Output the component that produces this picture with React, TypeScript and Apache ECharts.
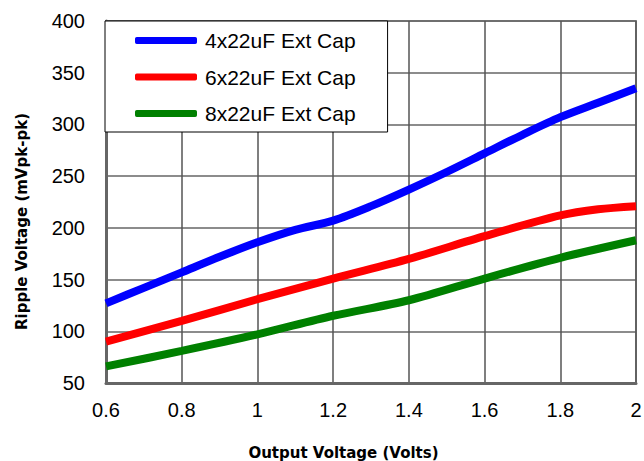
import React, { useEffect, useRef } from "react";
import * as echarts from "echarts";

const seriesNames = ["4x22uF Ext Cap", "6x22uF Ext Cap", "8x22uF Ext Cap"];
const seriesColors = ["#0000ff", "#ff0000", "#008000"];

const blueX = [0.6, 0.7, 0.8, 0.9, 1.0, 1.1, 1.2, 1.3, 1.4, 1.5, 1.6, 1.7, 1.8, 1.9, 2.0];
const blueY = [127, 142, 157, 172, 186, 198, 207, 221, 237, 254, 272, 290, 307, 321, 335];

const redX = [0.6, 0.8, 1.0, 1.2, 1.4, 1.6, 1.8, 1.9, 2.0];
const redY = [90, 110, 131, 151, 170, 192, 212, 218, 221];

const greenX = [0.6, 0.8, 1.0, 1.2, 1.4, 1.6, 1.8, 2.0];
const greenY = [66, 81, 97, 115, 130, 151, 171, 188];

const xTicks = { min: 0.6, max: 2, interval: 0.2 };
const yTicks = { min: 50, max: 400, interval: 50 };

const xName = "Output Voltage (Volts)";
const yName = "Ripple Voltage (mVpk-pk)";

function pairs(xs: number[], ys: number[]) {
  return xs.map((x, i) => [x, ys[i]]);
}

export default function App() {
  const ref = useRef<HTMLDivElement>(null);
  useEffect(() => {
    if (!ref.current) return;
    const chart = echarts.init(ref.current, null, { renderer: "svg" });
    const datasets = [pairs(blueX, blueY), pairs(redX, redY), pairs(greenX, greenY)];
    const titleStyle = {
      fontFamily: "DejaVu Sans",
      fontWeight: "bold",
      fontSize: 15,
      fill: "#000",
      align: "center",
      verticalAlign: "middle",
    };
    chart.setOption({
      animation: false,
      backgroundColor: "#ffffff",
      grid: {
        left: 106,
        right: 8,
        top: 21,
        bottom: 78,
        show: true,
        borderColor: "#8a8a8a",
        borderWidth: 2,
        outerBoundsMode: "none",
        containLabel: false,
      },
      legend: {
        show: true,
        orient: "vertical",
        left: 105,
        top: 21,
        padding: [9, 32, 8, 30],
        itemGap: 15.5,
        itemWidth: 62,
        itemHeight: 7,
        backgroundColor: "#ffffff",
        borderColor: "#000000",
        borderWidth: 1,
        borderRadius: 0,
        data: seriesNames.map((n) => ({ name: n, icon: "roundRect" })),
        textStyle: {
          fontFamily: "Liberation Sans",
          fontSize: 21,
          color: "#000",
          lineHeight: 20,
          padding: [0, 0, 0, 3],
        },
        itemStyle: { borderWidth: 0 },
        z: 10,
      },
      graphic: [
        {
          type: "text",
          x: 343.5,
          y: 453,
          style: { ...titleStyle, text: xName },
        },
        {
          type: "text",
          x: 21.5,
          y: 221.5,
          rotation: Math.PI / 2,
          style: { ...titleStyle, text: yName },
        },
      ],
      xAxis: {
        type: "value",
        min: xTicks.min,
        max: xTicks.max,
        interval: xTicks.interval,
        axisLine: { show: true, lineStyle: { color: "#666", width: 3 } },
        axisTick: { show: false },
        axisLabel: {
          fontFamily: "Liberation Sans",
          fontSize: 20,
          color: "#000",
          margin: 17,
        },
        splitLine: { show: true, lineStyle: { color: "#555", width: 1.5 } },
      },
      yAxis: {
        type: "value",
        min: yTicks.min,
        max: yTicks.max,
        interval: yTicks.interval,
        axisLine: { show: true, lineStyle: { color: "#666", width: 3 } },
        axisTick: { show: false },
        axisLabel: {
          fontFamily: "Liberation Sans",
          fontSize: 20,
          color: "#000",
          margin: 21,
        },
        splitLine: { show: true, lineStyle: { color: "#666", width: 1.5 } },
      },
      series: seriesNames.map((name, i) => ({
        name,
        type: "line",
        data: datasets[i],
        smooth: 0.3,
        showSymbol: false,
        symbol: "none",
        color: seriesColors[i],
        lineStyle: { color: seriesColors[i], width: 8 },
        z: 3,
      })),
    });
    return () => chart.dispose();
  }, []);
  return <div ref={ref} style={{ width: 644, height: 461, position: "absolute", left: 0, top: 0 }} />;
}
